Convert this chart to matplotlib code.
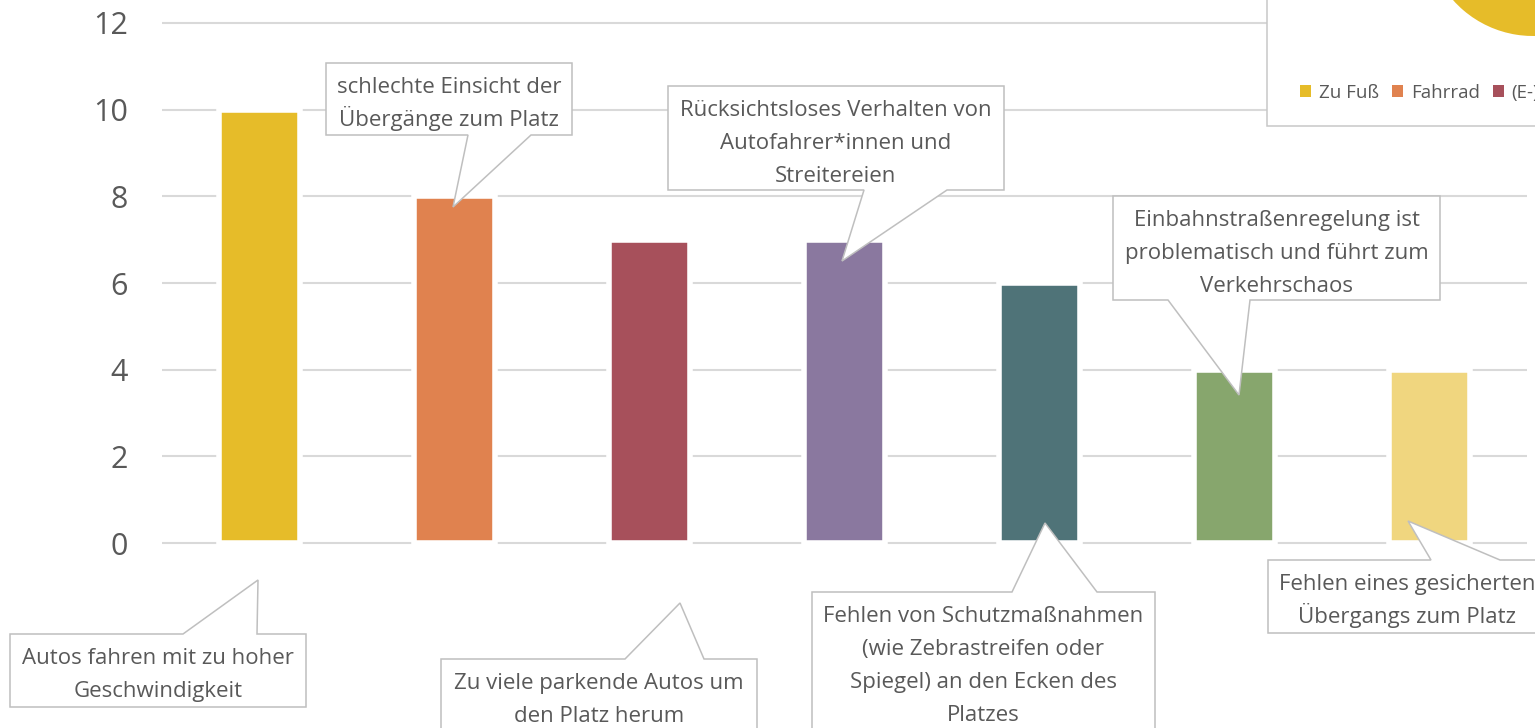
import matplotlib
matplotlib.use("Agg")
import matplotlib.pyplot as plt
import numpy as np
from matplotlib.patches import Polygon, Rectangle
from matplotlib.transforms import Affine2D

plt.rcParams['font.family'] = ['Open Sans', 'DejaVu Sans']

# data
categories = ["Autos fahren mit zu hoher Geschwindigkeit",
              "schlechte Einsicht der Übergänge zum Platz",
              "Zu viele parkende Autos um den Platz herum",
              "Rücksichtsloses Verhalten von Autofahrer*innen und Streitereien",
              "Fehlen von Schutzmaßnahmen (wie Zebrastreifen oder Spiegel) an den Ecken des Platzes",
              "Einbahnstraßenregelung ist problematisch und führt zum Verkehrschaos",
              "Fehlen eines gesicherten Übergangs zum Platz"]
values = [10, 8, 7, 7, 6, 4, 4]
bar_colors = ['#E6BC29', '#E0824F', '#A7505B', '#8A789F', '#4F7378', '#87A66D', '#F0D67F']

pie_labels = ["Zu Fuß", "Fahrrad", "(E-)Scooter"]
pie_values = [70, 20, 10]
pie_colors = ['#E6BC29', '#E0824F', '#A7505B']

W, H = 1535, 728
TXT = '#595959'
EDGE = '#bfbfbf'

fig = plt.figure(figsize=(W / 100, H / 100), dpi=100)
# pixel coords, origin top-left
pix = Affine2D().scale(1, -1).translate(0, H)

ax = fig.add_axes([162 / W, 1 - 545.2 / H, (1527 - 162) / W, (545.2 - 20.8) / H])
x = np.arange(len(values))
ax.bar(x, values, width=0.413, color=bar_colors, edgecolor='white', linewidth=4, zorder=2)
ax.set_xlim(-0.5, 6.5)
ax.set_ylim(-0.05, 12.05)
ax.set_yticks(range(0, 13, 2))
ax.set_xticks([])
ax.yaxis.grid(True, color='#d9d9d9', lw=1.5)
ax.set_axisbelow(True)
for s in ax.spines.values():
    s.set_visible(False)
ax.tick_params(axis='y', length=0, pad=24.5, labelsize=22, labelcolor=TXT)

# inset frame (pie chart, cut off at the edge)
fig.add_artist(Rectangle((1267, -10), 290, 136, transform=pix, fc='white',
                         ec='#c8c8c8', lw=1.1, zorder=1))
pax = fig.add_axes([1426 / W, 1 - 36 / H, 214 / W, 214 / H])
pax.set_zorder(2)
wedges, _ = pax.pie(pie_values, colors=pie_colors, startangle=90, counterclock=False,
                    radius=1, wedgeprops=dict(linewidth=0))
pax.set_xlim(-1, 1)
pax.set_ylim(-1, 1)
pax.axis('off')
leg = fig.legend(wedges, pie_labels, loc='center left', bbox_to_anchor=(1300 / W, 1 - 93 / H),
                 ncol=3, frameon=False, fontsize=13.5, handlelength=0.6, handleheight=0.6,
                 handletextpad=0.4, columnspacing=0.7, borderaxespad=0, borderpad=0,
                 labelcolor=TXT)
leg.set_zorder(4)


def callout(box, tail, side, lines):
    x0, y0, x1, y1 = box
    b1, b2, tx, ty = tail
    if side == 'bottom':
        pts = [(x0, y0), (x1, y0), (x1, y1), (b2, y1), (tx, ty), (b1, y1), (x0, y1)]
    else:
        pts = [(x0, y0), (b1, y0), (tx, ty), (b2, y0), (x1, y0), (x1, y1), (x0, y1)]
    fig.add_artist(Polygon(pts, closed=True, transform=pix, fc='white', ec=EDGE,
                           lw=1.1, zorder=5))
    for k, line in enumerate(lines):
        fig.text((x0 + x1) / 2, y0 + 30 + 33 * k, line, transform=pix, ha='center',
                 va='baseline', fontsize=16, color=TXT, zorder=6)


# label layout (pixels)
callout((10, 634, 306, 707), (183, 257, 258, 580), 'top',
        ["Autos fahren mit zu hoher", "Geschwindigkeit"])
callout((326, 63, 572, 135), (468, 531, 453, 207), 'bottom',
        ["schlechte Einsicht der", "Übergänge zum Platz"])
callout((441, 659, 757, 745), (625, 704, 680, 603), 'top',
        ["Zu viele parkende Autos um", "den Platz herum"])
callout((668, 86, 1004, 190), (864, 947, 842, 261), 'bottom',
        ["Rücksichtsloses Verhalten von", "Autofahrer*innen und", "Streitereien"])
callout((812, 592, 1155, 745), (1012, 1097, 1045, 523), 'top',
        ["Fehlen von Schutzmaßnahmen", "(wie Zebrastreifen oder",
         "Spiegel) an den Ecken des", "Platzes"])
callout((1113, 196, 1440, 300), (1168, 1250, 1239, 395), 'bottom',
        ["Einbahnstraßenregelung ist", "problematisch und führt zum", "Verkehrschaos"])
callout((1268, 560, 1546, 633), (1431, 1500, 1408, 521), 'top',
        ["Fehlen eines gesicherten", "Übergangs zum Platz"])

fig.savefig('out.png', dpi=100)
